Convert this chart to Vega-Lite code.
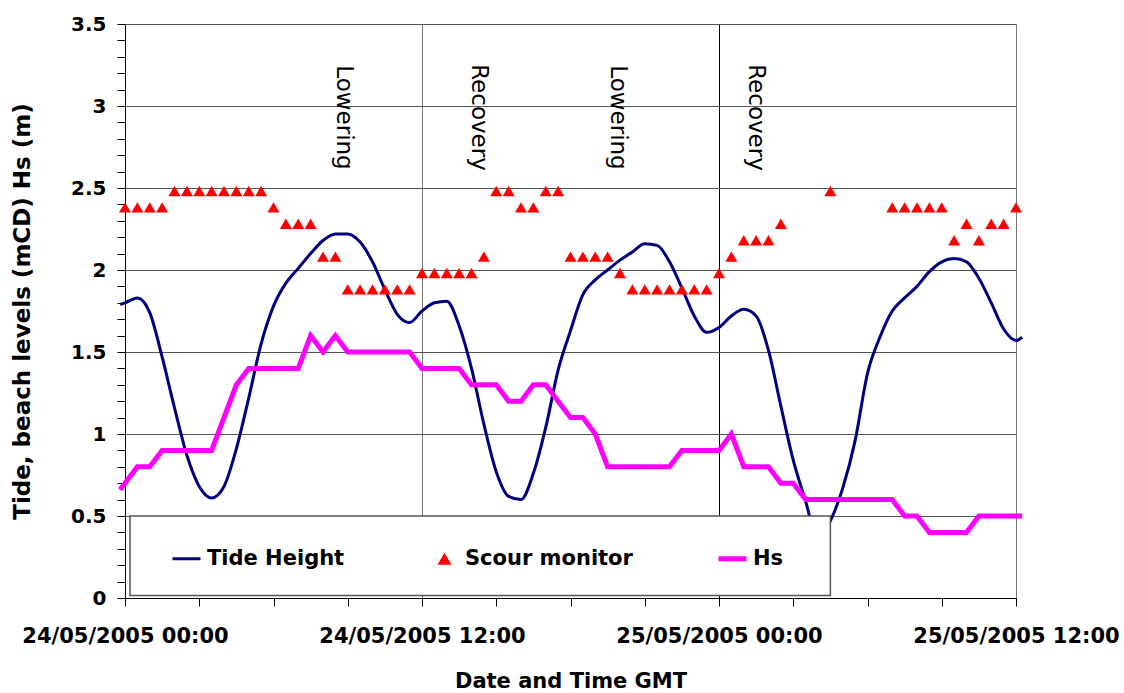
{
  "$schema": "https://vega.github.io/schema/vega-lite/v6.json",
  "width": 891,
  "height": 574,
  "autosize": {"type": "none"},
  "padding": {"left": 125, "top": 24, "right": 108, "bottom": 95},
  "background": "white",
  "config": {"view": {"stroke": null}, "font": "DejaVu Sans"},
  "data": {"values": [
    {"time":"2005-05-24T08:51Z","phase":"Lowering"},
    {"time":"2005-05-24T14:18Z","phase":"Recovery"},
    {"time":"2005-05-24T19:54Z","phase":"Lowering"},
    {"time":"2005-05-25T01:30Z","phase":"Recovery"},

    {"time":"2005-05-23T23:48Z","series":"Tide Height","value":1.79},
    {"time":"2005-05-24T00:00Z","series":"Tide Height","value":1.80},
    {"time":"2005-05-24T00:30Z","series":"Tide Height","value":1.83},
    {"time":"2005-05-24T01:00Z","series":"Tide Height","value":1.74},
    {"time":"2005-05-24T01:30Z","series":"Tide Height","value":1.47},
    {"time":"2005-05-24T02:00Z","series":"Tide Height","value":1.16},
    {"time":"2005-05-24T02:30Z","series":"Tide Height","value":0.87},
    {"time":"2005-05-24T03:00Z","series":"Tide Height","value":0.68},
    {"time":"2005-05-24T03:30Z","series":"Tide Height","value":0.61},
    {"time":"2005-05-24T04:00Z","series":"Tide Height","value":0.68},
    {"time":"2005-05-24T04:30Z","series":"Tide Height","value":0.91},
    {"time":"2005-05-24T05:00Z","series":"Tide Height","value":1.22},
    {"time":"2005-05-24T05:30Z","series":"Tide Height","value":1.55},
    {"time":"2005-05-24T06:00Z","series":"Tide Height","value":1.78},
    {"time":"2005-05-24T06:30Z","series":"Tide Height","value":1.92},
    {"time":"2005-05-24T07:00Z","series":"Tide Height","value":2.01},
    {"time":"2005-05-24T07:30Z","series":"Tide Height","value":2.10},
    {"time":"2005-05-24T08:00Z","series":"Tide Height","value":2.18},
    {"time":"2005-05-24T08:30Z","series":"Tide Height","value":2.22},
    {"time":"2005-05-24T09:00Z","series":"Tide Height","value":2.22},
    {"time":"2005-05-24T09:30Z","series":"Tide Height","value":2.17},
    {"time":"2005-05-24T10:00Z","series":"Tide Height","value":2.05},
    {"time":"2005-05-24T10:30Z","series":"Tide Height","value":1.88},
    {"time":"2005-05-24T11:00Z","series":"Tide Height","value":1.73},
    {"time":"2005-05-24T11:30Z","series":"Tide Height","value":1.68},
    {"time":"2005-05-24T12:00Z","series":"Tide Height","value":1.75},
    {"time":"2005-05-24T12:30Z","series":"Tide Height","value":1.80},
    {"time":"2005-05-24T13:00Z","series":"Tide Height","value":1.81},
    {"time":"2005-05-24T13:30Z","series":"Tide Height","value":1.66},
    {"time":"2005-05-24T14:00Z","series":"Tide Height","value":1.40},
    {"time":"2005-05-24T14:30Z","series":"Tide Height","value":1.06},
    {"time":"2005-05-24T15:00Z","series":"Tide Height","value":0.77},
    {"time":"2005-05-24T15:30Z","series":"Tide Height","value":0.62},
    {"time":"2005-05-24T16:00Z","series":"Tide Height","value":0.60},
    {"time":"2005-05-24T16:30Z","series":"Tide Height","value":0.76},
    {"time":"2005-05-24T17:00Z","series":"Tide Height","value":1.04},
    {"time":"2005-05-24T17:30Z","series":"Tide Height","value":1.39},
    {"time":"2005-05-24T18:00Z","series":"Tide Height","value":1.63},
    {"time":"2005-05-24T18:30Z","series":"Tide Height","value":1.85},
    {"time":"2005-05-24T19:00Z","series":"Tide Height","value":1.94},
    {"time":"2005-05-24T19:30Z","series":"Tide Height","value":2.00},
    {"time":"2005-05-24T20:00Z","series":"Tide Height","value":2.06},
    {"time":"2005-05-24T20:30Z","series":"Tide Height","value":2.11},
    {"time":"2005-05-24T21:00Z","series":"Tide Height","value":2.16},
    {"time":"2005-05-24T21:30Z","series":"Tide Height","value":2.15},
    {"time":"2005-05-24T22:00Z","series":"Tide Height","value":2.05},
    {"time":"2005-05-24T22:30Z","series":"Tide Height","value":1.89},
    {"time":"2005-05-24T23:00Z","series":"Tide Height","value":1.72},
    {"time":"2005-05-24T23:30Z","series":"Tide Height","value":1.62},
    {"time":"2005-05-25T00:00Z","series":"Tide Height","value":1.65},
    {"time":"2005-05-25T00:30Z","series":"Tide Height","value":1.72},
    {"time":"2005-05-25T01:00Z","series":"Tide Height","value":1.76},
    {"time":"2005-05-25T01:30Z","series":"Tide Height","value":1.72},
    {"time":"2005-05-25T02:00Z","series":"Tide Height","value":1.51},
    {"time":"2005-05-25T02:30Z","series":"Tide Height","value":1.17},
    {"time":"2005-05-25T03:00Z","series":"Tide Height","value":0.84},
    {"time":"2005-05-25T03:30Z","series":"Tide Height","value":0.59},
    {"time":"2005-05-25T04:00Z","series":"Tide Height","value":0.35},
    {"time":"2005-05-25T04:30Z","series":"Tide Height","value":0.47},
    {"time":"2005-05-25T05:00Z","series":"Tide Height","value":0.67},
    {"time":"2005-05-25T05:30Z","series":"Tide Height","value":0.96},
    {"time":"2005-05-25T06:00Z","series":"Tide Height","value":1.37},
    {"time":"2005-05-25T06:30Z","series":"Tide Height","value":1.59},
    {"time":"2005-05-25T07:00Z","series":"Tide Height","value":1.75},
    {"time":"2005-05-25T07:30Z","series":"Tide Height","value":1.83},
    {"time":"2005-05-25T08:00Z","series":"Tide Height","value":1.90},
    {"time":"2005-05-25T08:30Z","series":"Tide Height","value":1.99},
    {"time":"2005-05-25T09:00Z","series":"Tide Height","value":2.05},
    {"time":"2005-05-25T09:30Z","series":"Tide Height","value":2.07},
    {"time":"2005-05-25T10:00Z","series":"Tide Height","value":2.05},
    {"time":"2005-05-25T10:30Z","series":"Tide Height","value":1.95},
    {"time":"2005-05-25T11:00Z","series":"Tide Height","value":1.80},
    {"time":"2005-05-25T11:30Z","series":"Tide Height","value":1.64},
    {"time":"2005-05-25T12:00Z","series":"Tide Height","value":1.57},
    {"time":"2005-05-25T12:15Z","series":"Tide Height","value":1.59},

    {"time":"2005-05-24T00:00Z","series":"Scour monitor","value":2.4},
    {"time":"2005-05-24T00:30Z","series":"Scour monitor","value":2.4},
    {"time":"2005-05-24T01:00Z","series":"Scour monitor","value":2.4},
    {"time":"2005-05-24T01:30Z","series":"Scour monitor","value":2.4},
    {"time":"2005-05-24T02:00Z","series":"Scour monitor","value":2.5},
    {"time":"2005-05-24T02:30Z","series":"Scour monitor","value":2.5},
    {"time":"2005-05-24T03:00Z","series":"Scour monitor","value":2.5},
    {"time":"2005-05-24T03:30Z","series":"Scour monitor","value":2.5},
    {"time":"2005-05-24T04:00Z","series":"Scour monitor","value":2.5},
    {"time":"2005-05-24T04:30Z","series":"Scour monitor","value":2.5},
    {"time":"2005-05-24T05:00Z","series":"Scour monitor","value":2.5},
    {"time":"2005-05-24T05:30Z","series":"Scour monitor","value":2.5},
    {"time":"2005-05-24T06:00Z","series":"Scour monitor","value":2.4},
    {"time":"2005-05-24T06:30Z","series":"Scour monitor","value":2.3},
    {"time":"2005-05-24T07:00Z","series":"Scour monitor","value":2.3},
    {"time":"2005-05-24T07:30Z","series":"Scour monitor","value":2.3},
    {"time":"2005-05-24T08:00Z","series":"Scour monitor","value":2.1},
    {"time":"2005-05-24T08:30Z","series":"Scour monitor","value":2.1},
    {"time":"2005-05-24T09:00Z","series":"Scour monitor","value":1.9},
    {"time":"2005-05-24T09:30Z","series":"Scour monitor","value":1.9},
    {"time":"2005-05-24T10:00Z","series":"Scour monitor","value":1.9},
    {"time":"2005-05-24T10:30Z","series":"Scour monitor","value":1.9},
    {"time":"2005-05-24T11:00Z","series":"Scour monitor","value":1.9},
    {"time":"2005-05-24T11:30Z","series":"Scour monitor","value":1.9},
    {"time":"2005-05-24T12:00Z","series":"Scour monitor","value":2.0},
    {"time":"2005-05-24T12:30Z","series":"Scour monitor","value":2.0},
    {"time":"2005-05-24T13:00Z","series":"Scour monitor","value":2.0},
    {"time":"2005-05-24T13:30Z","series":"Scour monitor","value":2.0},
    {"time":"2005-05-24T14:00Z","series":"Scour monitor","value":2.0},
    {"time":"2005-05-24T14:30Z","series":"Scour monitor","value":2.1},
    {"time":"2005-05-24T15:00Z","series":"Scour monitor","value":2.5},
    {"time":"2005-05-24T15:30Z","series":"Scour monitor","value":2.5},
    {"time":"2005-05-24T16:00Z","series":"Scour monitor","value":2.4},
    {"time":"2005-05-24T16:30Z","series":"Scour monitor","value":2.4},
    {"time":"2005-05-24T17:00Z","series":"Scour monitor","value":2.5},
    {"time":"2005-05-24T17:30Z","series":"Scour monitor","value":2.5},
    {"time":"2005-05-24T18:00Z","series":"Scour monitor","value":2.1},
    {"time":"2005-05-24T18:30Z","series":"Scour monitor","value":2.1},
    {"time":"2005-05-24T19:00Z","series":"Scour monitor","value":2.1},
    {"time":"2005-05-24T19:30Z","series":"Scour monitor","value":2.1},
    {"time":"2005-05-24T20:00Z","series":"Scour monitor","value":2.0},
    {"time":"2005-05-24T20:30Z","series":"Scour monitor","value":1.9},
    {"time":"2005-05-24T21:00Z","series":"Scour monitor","value":1.9},
    {"time":"2005-05-24T21:30Z","series":"Scour monitor","value":1.9},
    {"time":"2005-05-24T22:00Z","series":"Scour monitor","value":1.9},
    {"time":"2005-05-24T22:30Z","series":"Scour monitor","value":1.9},
    {"time":"2005-05-24T23:00Z","series":"Scour monitor","value":1.9},
    {"time":"2005-05-24T23:30Z","series":"Scour monitor","value":1.9},
    {"time":"2005-05-25T00:00Z","series":"Scour monitor","value":2.0},
    {"time":"2005-05-25T00:30Z","series":"Scour monitor","value":2.1},
    {"time":"2005-05-25T01:00Z","series":"Scour monitor","value":2.2},
    {"time":"2005-05-25T01:30Z","series":"Scour monitor","value":2.2},
    {"time":"2005-05-25T02:00Z","series":"Scour monitor","value":2.2},
    {"time":"2005-05-25T02:30Z","series":"Scour monitor","value":2.3},
    {"time":"2005-05-25T04:30Z","series":"Scour monitor","value":2.5},
    {"time":"2005-05-25T07:00Z","series":"Scour monitor","value":2.4},
    {"time":"2005-05-25T07:30Z","series":"Scour monitor","value":2.4},
    {"time":"2005-05-25T08:00Z","series":"Scour monitor","value":2.4},
    {"time":"2005-05-25T08:30Z","series":"Scour monitor","value":2.4},
    {"time":"2005-05-25T09:00Z","series":"Scour monitor","value":2.4},
    {"time":"2005-05-25T09:30Z","series":"Scour monitor","value":2.2},
    {"time":"2005-05-25T10:00Z","series":"Scour monitor","value":2.3},
    {"time":"2005-05-25T10:30Z","series":"Scour monitor","value":2.2},
    {"time":"2005-05-25T11:00Z","series":"Scour monitor","value":2.3},
    {"time":"2005-05-25T11:30Z","series":"Scour monitor","value":2.3},
    {"time":"2005-05-25T12:00Z","series":"Scour monitor","value":2.4},

    {"time":"2005-05-23T23:48Z","series":"Hs","value":0.66},
    {"time":"2005-05-24T00:00Z","series":"Hs","value":0.7},
    {"time":"2005-05-24T00:30Z","series":"Hs","value":0.8},
    {"time":"2005-05-24T01:00Z","series":"Hs","value":0.8},
    {"time":"2005-05-24T01:30Z","series":"Hs","value":0.9},
    {"time":"2005-05-24T02:00Z","series":"Hs","value":0.9},
    {"time":"2005-05-24T02:30Z","series":"Hs","value":0.9},
    {"time":"2005-05-24T03:00Z","series":"Hs","value":0.9},
    {"time":"2005-05-24T03:30Z","series":"Hs","value":0.9},
    {"time":"2005-05-24T04:00Z","series":"Hs","value":1.1},
    {"time":"2005-05-24T04:30Z","series":"Hs","value":1.3},
    {"time":"2005-05-24T05:00Z","series":"Hs","value":1.4},
    {"time":"2005-05-24T05:30Z","series":"Hs","value":1.4},
    {"time":"2005-05-24T06:00Z","series":"Hs","value":1.4},
    {"time":"2005-05-24T06:30Z","series":"Hs","value":1.4},
    {"time":"2005-05-24T07:00Z","series":"Hs","value":1.4},
    {"time":"2005-05-24T07:30Z","series":"Hs","value":1.6},
    {"time":"2005-05-24T08:00Z","series":"Hs","value":1.5},
    {"time":"2005-05-24T08:30Z","series":"Hs","value":1.6},
    {"time":"2005-05-24T09:00Z","series":"Hs","value":1.5},
    {"time":"2005-05-24T09:30Z","series":"Hs","value":1.5},
    {"time":"2005-05-24T10:00Z","series":"Hs","value":1.5},
    {"time":"2005-05-24T10:30Z","series":"Hs","value":1.5},
    {"time":"2005-05-24T11:00Z","series":"Hs","value":1.5},
    {"time":"2005-05-24T11:30Z","series":"Hs","value":1.5},
    {"time":"2005-05-24T12:00Z","series":"Hs","value":1.4},
    {"time":"2005-05-24T12:30Z","series":"Hs","value":1.4},
    {"time":"2005-05-24T13:00Z","series":"Hs","value":1.4},
    {"time":"2005-05-24T13:30Z","series":"Hs","value":1.4},
    {"time":"2005-05-24T14:00Z","series":"Hs","value":1.3},
    {"time":"2005-05-24T14:30Z","series":"Hs","value":1.3},
    {"time":"2005-05-24T15:00Z","series":"Hs","value":1.3},
    {"time":"2005-05-24T15:30Z","series":"Hs","value":1.2},
    {"time":"2005-05-24T16:00Z","series":"Hs","value":1.2},
    {"time":"2005-05-24T16:30Z","series":"Hs","value":1.3},
    {"time":"2005-05-24T17:00Z","series":"Hs","value":1.3},
    {"time":"2005-05-24T17:30Z","series":"Hs","value":1.2},
    {"time":"2005-05-24T18:00Z","series":"Hs","value":1.1},
    {"time":"2005-05-24T18:30Z","series":"Hs","value":1.1},
    {"time":"2005-05-24T19:00Z","series":"Hs","value":1.0},
    {"time":"2005-05-24T19:30Z","series":"Hs","value":0.8},
    {"time":"2005-05-24T20:00Z","series":"Hs","value":0.8},
    {"time":"2005-05-24T20:30Z","series":"Hs","value":0.8},
    {"time":"2005-05-24T21:00Z","series":"Hs","value":0.8},
    {"time":"2005-05-24T21:30Z","series":"Hs","value":0.8},
    {"time":"2005-05-24T22:00Z","series":"Hs","value":0.8},
    {"time":"2005-05-24T22:30Z","series":"Hs","value":0.9},
    {"time":"2005-05-24T23:00Z","series":"Hs","value":0.9},
    {"time":"2005-05-24T23:30Z","series":"Hs","value":0.9},
    {"time":"2005-05-25T00:00Z","series":"Hs","value":0.9},
    {"time":"2005-05-25T00:30Z","series":"Hs","value":1.0},
    {"time":"2005-05-25T01:00Z","series":"Hs","value":0.8},
    {"time":"2005-05-25T01:30Z","series":"Hs","value":0.8},
    {"time":"2005-05-25T02:00Z","series":"Hs","value":0.8},
    {"time":"2005-05-25T02:30Z","series":"Hs","value":0.7},
    {"time":"2005-05-25T03:00Z","series":"Hs","value":0.7},
    {"time":"2005-05-25T03:30Z","series":"Hs","value":0.6},
    {"time":"2005-05-25T04:00Z","series":"Hs","value":0.6},
    {"time":"2005-05-25T04:30Z","series":"Hs","value":0.6},
    {"time":"2005-05-25T05:00Z","series":"Hs","value":0.6},
    {"time":"2005-05-25T05:30Z","series":"Hs","value":0.6},
    {"time":"2005-05-25T06:00Z","series":"Hs","value":0.6},
    {"time":"2005-05-25T06:30Z","series":"Hs","value":0.6},
    {"time":"2005-05-25T07:00Z","series":"Hs","value":0.6},
    {"time":"2005-05-25T07:30Z","series":"Hs","value":0.5},
    {"time":"2005-05-25T08:00Z","series":"Hs","value":0.5},
    {"time":"2005-05-25T08:30Z","series":"Hs","value":0.4},
    {"time":"2005-05-25T09:00Z","series":"Hs","value":0.4},
    {"time":"2005-05-25T09:30Z","series":"Hs","value":0.4},
    {"time":"2005-05-25T10:00Z","series":"Hs","value":0.4},
    {"time":"2005-05-25T10:30Z","series":"Hs","value":0.5},
    {"time":"2005-05-25T11:00Z","series":"Hs","value":0.5},
    {"time":"2005-05-25T11:30Z","series":"Hs","value":0.5},
    {"time":"2005-05-25T12:00Z","series":"Hs","value":0.5},
    {"time":"2005-05-25T12:15Z","series":"Hs","value":0.5}
  ]},
  "layer": [
    {
      "transform": [{"filter": "datum.series === 'Tide Height'"}],
      "mark": {"type": "line", "strokeWidth": 3, "interpolate": "monotone"},
      "encoding": {
        "x": {
          "field": "time", "type": "temporal",
          "scale": {"type": "utc", "domain": [1116892800000, 1117022400000], "nice": false},
          "axis": {
            "title": "Date and Time GMT",
            "values": [1116892800000, 1116903600000, 1116914400000, 1116925200000, 1116936000000, 1116946800000, 1116957600000, 1116968400000, 1116979200000, 1116990000000, 1117000800000, 1117011600000, 1117022400000],
            "tickCount": 100,
            "labelExpr": "utchours(datum.value) % 12 === 0 ? utcFormat(datum.value, '%d/%m/%Y %H:%M') : ''",
            "labelFont": "DejaVu Sans", "labelFontWeight": "bold", "labelFontSize": 21, "labelColor": "black",
            "labelPadding": 19, "labelOverlap": false, "labelFlush": false, "labelLimit": 400,
            "tickSize": 8, "tickColor": "black", "domainColor": "black",
            "titleFont": "DejaVu Sans", "titleFontWeight": "bold", "titleFontSize": 21, "titleColor": "black", "titlePadding": 24,
            "grid": true,
            "gridColor": {"condition": {"test": "utchours(datum.value) === 12", "value": "#777777"}, "value": "#000000"},
            "gridOpacity": {"condition": {"test": "utchours(datum.value) % 12 === 0 && datum.value > 1116892800000", "value": 1}, "value": 0}
          }
        },
        "y": {
          "field": "value", "type": "quantitative",
          "scale": {"domain": [0, 3.5], "nice": false},
          "axis": {
            "title": "Tide, beach levels (mCD) Hs (m)",
            "values": [0,0.1,0.2,0.3,0.4,0.5,0.6,0.7,0.8,0.9,1,1.1,1.2,1.3,1.4,1.5,1.6,1.7,1.8,1.9,2,2.1,2.2,2.3,2.4,2.5,2.6,2.7,2.8,2.9,3,3.1,3.2,3.3,3.4,3.5],
            "tickCount": 100,
            "labelExpr": "abs(datum.value*2 - round(datum.value*2)) < 0.001 ? format(datum.value, '~g') : ''",
            "labelFont": "DejaVu Sans", "labelFontWeight": "bold", "labelFontSize": 20, "labelColor": "black",
            "labelPadding": 11, "labelOverlap": false, "labelFlush": false,
            "tickSize": 8, "tickColor": "black", "domainColor": "black",
            "titleFont": "DejaVu Sans", "titleFontWeight": "bold", "titleFontSize": 23, "titleColor": "black", "titlePadding": 36,
            "grid": true, "gridColor": "#555555",
            "gridOpacity": {"condition": {"test": "abs(datum.value*2 - round(datum.value*2)) < 0.001 && datum.value > 0", "value": 1}, "value": 0}
          }
        },
        "color": {
          "field": "series", "type": "nominal",
          "scale": {"domain": ["Tide Height", "Scour monitor", "Hs"], "range": ["#000080", "#ff0000", "#ff00ff"]},
          "legend": {
            "title": null, "orient": "none", "legendX": 5, "legendY": 497, "direction": "horizontal",
            "padding": 27, "symbolOffset": 19, "columnPadding": 70, "labelOffset": 10, "symbolSize": 784,
            "labelFont": "DejaVu Sans", "labelFontWeight": "bold", "labelFontSize": 21, "labelColor": "black",
            "labelLimit": 400,
            "encode": {"symbols": {"update": {
              "shape": {"signal": "datum.value === 'Scour monitor' ? 'triangle-up' : 'stroke'"},
              "size": {"signal": "datum.value === 'Scour monitor' ? 196 : 784"},
              "strokeWidth": {"signal": "datum.value === 'Hs' ? 5 : (datum.value === 'Scour monitor' ? 0 : 3)"},
              "stroke": {"signal": "datum.value === 'Tide Height' ? '#000080' : (datum.value === 'Hs' ? '#ff00ff' : '#ff0000')"},
              "fill": {"signal": "datum.value === 'Scour monitor' ? '#ff0000' : 'transparent'"},
              "opacity": {"value": 1}
            }}}
          }
        }
      }
    },
    {
      "transform": [{"filter": "datum.series === 'Scour monitor'"}],
      "mark": {"type": "point", "shape": "triangle-up", "filled": true, "size": 144, "opacity": 1, "yOffset": 3},
      "encoding": {
        "x": {"field": "time", "type": "temporal"},
        "y": {"field": "value", "type": "quantitative"},
        "color": {"field": "series", "type": "nominal"}
      }
    },
    {
      "transform": [{"filter": "datum.series === 'Hs'"}],
      "mark": {"type": "line", "strokeWidth": 5},
      "encoding": {
        "x": {"field": "time", "type": "temporal"},
        "y": {"field": "value", "type": "quantitative"},
        "color": {"field": "series", "type": "nominal"}
      }
    },
    {
      "data": {"values": [{}]},
      "mark": {"type": "rect", "fill": "white", "stroke": "#555555", "strokeWidth": 1.5},
      "encoding": {
        "x": {"datum": {"year": 2005, "month": 5, "date": 24, "hours": 0, "minutes": 12, "utc": true}},
        "x2": {"datum": {"year": 2005, "month": 5, "date": 25, "hours": 4, "minutes": 30, "utc": true}},
        "y": {
          "datum": 0.5,
          "axis": {
            "title": "Tide, beach levels (mCD) Hs (m)",
            "values": [0,0.1,0.2,0.3,0.4,0.5,0.6,0.7,0.8,0.9,1,1.1,1.2,1.3,1.4,1.5,1.6,1.7,1.8,1.9,2,2.1,2.2,2.3,2.4,2.5,2.6,2.7,2.8,2.9,3,3.1,3.2,3.3,3.4,3.5],
            "tickCount": 100,
            "labelExpr": "abs(datum.value*2 - round(datum.value*2)) < 0.001 ? format(datum.value, '~g') : ''",
            "labelFont": "DejaVu Sans", "labelFontWeight": "bold", "labelFontSize": 20, "labelColor": "black",
            "labelPadding": 11, "labelOverlap": false, "labelFlush": false,
            "tickSize": 8, "tickColor": "black", "domainColor": "black",
            "titleFont": "DejaVu Sans", "titleFontWeight": "bold", "titleFontSize": 23, "titleColor": "black", "titlePadding": 36,
            "grid": true, "gridColor": "#555555",
            "gridOpacity": {"condition": {"test": "abs(datum.value*2 - round(datum.value*2)) < 0.001 && datum.value > 0", "value": 1}, "value": 0}
          }
        },
        "y2": {"datum": 0.015}
      }
    },
    {
      "transform": [{"filter": "isValid(datum.phase)"}],
      "mark": {"type": "text", "angle": 90, "font": "DejaVu Sans", "fontSize": 23, "align": "center", "baseline": "middle", "fill": "black"},
      "encoding": {
        "x": {"field": "time", "type": "temporal"},
        "y": {
          "datum": 2.93,
          "axis": {
            "title": "Tide, beach levels (mCD) Hs (m)",
            "values": [0,0.1,0.2,0.3,0.4,0.5,0.6,0.7,0.8,0.9,1,1.1,1.2,1.3,1.4,1.5,1.6,1.7,1.8,1.9,2,2.1,2.2,2.3,2.4,2.5,2.6,2.7,2.8,2.9,3,3.1,3.2,3.3,3.4,3.5],
            "tickCount": 100,
            "labelExpr": "abs(datum.value*2 - round(datum.value*2)) < 0.001 ? format(datum.value, '~g') : ''",
            "labelFont": "DejaVu Sans", "labelFontWeight": "bold", "labelFontSize": 20, "labelColor": "black",
            "labelPadding": 11, "labelOverlap": false, "labelFlush": false,
            "tickSize": 8, "tickColor": "black", "domainColor": "black",
            "titleFont": "DejaVu Sans", "titleFontWeight": "bold", "titleFontSize": 23, "titleColor": "black", "titlePadding": 36,
            "grid": true, "gridColor": "#555555",
            "gridOpacity": {"condition": {"test": "abs(datum.value*2 - round(datum.value*2)) < 0.001 && datum.value > 0", "value": 1}, "value": 0}
          }
        },
        "text": {"field": "phase", "type": "nominal"}
      }
    }
  ]
}
